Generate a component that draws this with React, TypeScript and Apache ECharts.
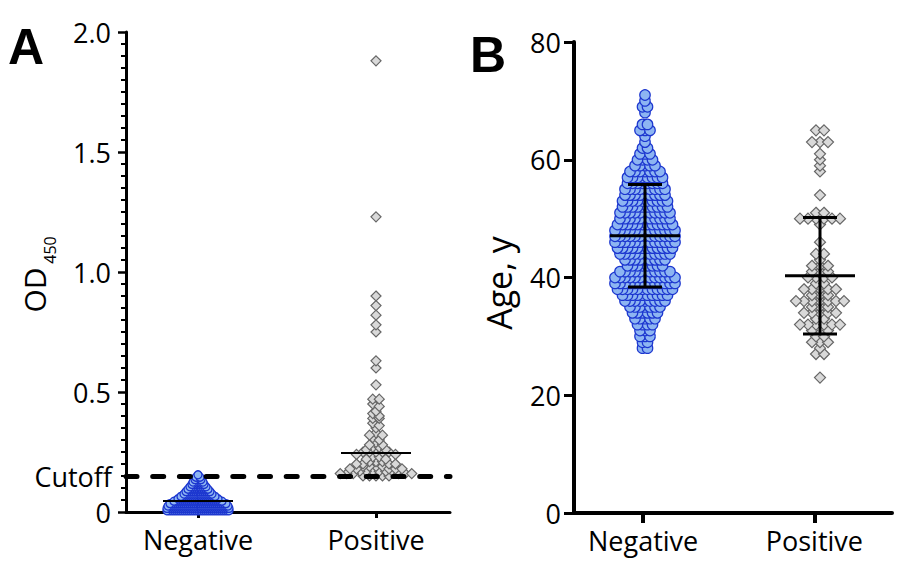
import React, { useEffect, useRef } from 'react';
import * as echarts from 'echarts';

// ---------- data ----------
const categories = ['Negative', 'Positive'];

// Panel A: OD450
const odTickValues = [0, 0.5, 1.0, 1.5, 2.0];
const odCutoff = 0.154;
const odNegLevels = [0.005, 0.015, 0.025, 0.035, 0.045, 0.055, 0.065, 0.075, 0.085, 0.095, 0.105, 0.115, 0.125, 0.135, 0.145, 0.155];
const odNegCounts = [32, 32, 31, 29, 25, 21, 18, 15, 13, 11, 9, 7, 6, 4, 3, 1];
const odPos = [
  1.88, 1.23, 0.9, 0.86, 0.82, 0.78, 0.75, 0.63, 0.6, 0.53,
  0.47, 0.47, 0.45, 0.44, 0.42, 0.41, 0.4, 0.39, 0.39, 0.37,
  0.36, 0.35, 0.33, 0.32, 0.32, 0.31, 0.3, 0.29, 0.28, 0.28,
  0.27, 0.27, 0.26, 0.26, 0.25, 0.25, 0.25, 0.25, 0.25,
  0.24, 0.24, 0.23, 0.23, 0.22, 0.22, 0.21, 0.21, 0.21,
  0.2, 0.2, 0.2, 0.2, 0.19, 0.19, 0.19, 0.19,
  0.18, 0.18, 0.18, 0.18, 0.18, 0.17, 0.17, 0.17, 0.17, 0.17, 0.17,
  0.16, 0.16, 0.16, 0.16, 0.16, 0.16, 0.15, 0.15, 0.15, 0.15, 0.15,
];
const odCentre = [0.046, 0.246];

// Panel B: age
const ageTickValues = [0, 20, 40, 60, 80];
const ageNegAges = [28, 29, 30, 31, 32, 33, 34, 35, 36, 37, 38, 39, 40, 41, 42, 43, 44, 45, 46, 47, 48, 49, 50, 51, 52, 53, 54, 55, 56, 57, 58, 59, 60, 61, 62, 63, 64, 65, 66, 67, 68, 69, 70, 71];
const ageNegCounts = [2, 2, 3, 3, 4, 5, 6, 7, 9, 10, 12, 13, 13, 11, 8, 9, 11, 12, 13, 13, 13, 12, 11, 11, 10, 10, 9, 9, 8, 8, 7, 5, 4, 3, 2, 1, 1, 3, 2, 0, 1, 2, 1, 1];
const agePos = [
  65, 65, 63, 63, 63, 61, 60, 59, 58, 54, 51, 51, 50, 50, 50, 50, 50, 50,
  49, 46, 44, 44, 43, 42, 42, 42, 41, 41, 41, 40, 40, 40, 40, 39, 39,
  38, 38, 38, 38, 38, 37, 37, 37, 36, 36, 36, 36, 36, 36, 36, 35, 35, 35,
  34, 34, 34, 34, 34, 33, 33, 32, 32, 32, 32, 32, 32, 31, 31, 31, 30, 30,
  29, 29, 29, 28, 27, 27, 23,
];
const ageMean = [47.1, 40.3];
const ageSd = [8.7, 9.9];

// ---------- layout / style ----------
const FONT = '"Open Sans", sans-serif';
const NEG_FILL = '#8DB5F2';
const NEG_LINE = '#1C36CF';
const POS_FILL = '#D9D9D9';
const POS_LINE = '#666666';

const PA = { left: 126, right: 450, top: 32, bottom: 512, cats: [198, 376] };
const PB = { left: 574, right: 892, top: 42, bottom: 513, cats: [645, 820] };

function xScale(p: typeof PA) {
  const k = p.cats[1] - p.cats[0];
  const min = 1 - (p.cats[0] - p.left) / k;
  const max = min + (p.right - p.left) / k;
  return { k, min, max };
}

const expand = (levels: number[], counts: number[]) =>
  levels.flatMap((l, i) => Array(counts[i]).fill(l) as number[]);

// Prism-style row layout: points sharing a row are placed side by side around the category
function swarm(values: number[], rowOf: (v: number) => number, centre: number, step: number) {
  const rows = new Map<number, number[]>();
  for (const v of values) {
    const key = rowOf(v);
    if (!rows.has(key)) rows.set(key, []);
    rows.get(key)!.push(v);
  }
  const pts: number[][] = [];
  const keys = Array.from(rows.keys()).sort((a, b) => a - b);
  for (const key of keys) {
    const row = rows.get(key)!.slice().sort((a, b) => b - a);
    const n = row.length;
    const slots = Array.from({ length: n }, (_, i) => i - (n - 1) / 2).sort(
      (a, b) => Math.abs(a) - Math.abs(b) || a - b
    );
    row.forEach((v, i) => pts.push([centre + slots[i] * step, v]));
  }
  return pts;
}

function makeOption() {
  const sa = xScale(PA);
  const sb = xScale(PB);

  const odNeg = expand(odNegLevels, odNegCounts);
  const ageNeg = expand(ageNegAges, ageNegCounts);

  const aNegPts = swarm(odNeg, (v) => Math.round(v * 1000), 1, 2 / sa.k);
  const aPosPts = swarm(odPos, (v) => Math.floor(Math.round(v * 100) / 2), 2, 6.5 / sa.k);
  const bNegPts = swarm(ageNeg, (v) => v, 1, 5 / sb.k);
  const bPosPts = swarm(agePos, (v) => v, 2, 8 / sb.k);

  const axisBlack = { color: '#000' };
  const labelFont = { color: '#000', fontFamily: FONT, fontSize: 27 };

  const centreA = odCentre.map((m, i) => [i + 1, m, 0]);
  const centreB = ageMean.map((m, i) => [i + 1, m, ageSd[i]]);

  const makeRender = (half: number, capHalf: number, lw: number) => (params: any, api: any) => {
    const x = api.value(0);
    const m = api.value(1);
    const sd = api.value(2);
    const c = api.coord([x, m]);
    const children: any[] = [
      { type: 'line', shape: { x1: c[0] - half, y1: c[1], x2: c[0] + half, y2: c[1] }, style: { stroke: '#000', lineWidth: lw } },
    ];
    if (sd > 0) {
      const t = api.coord([x, m + sd]);
      const b = api.coord([x, m - sd]);
      children.push(
        { type: 'line', shape: { x1: c[0], y1: t[1], x2: c[0], y2: b[1] }, style: { stroke: '#000', lineWidth: lw } },
        { type: 'line', shape: { x1: c[0] - capHalf, y1: t[1], x2: c[0] + capHalf, y2: t[1] }, style: { stroke: '#000', lineWidth: lw } },
        { type: 'line', shape: { x1: c[0] - capHalf, y1: b[1], x2: c[0] + capHalf, y2: b[1] }, style: { stroke: '#000', lineWidth: lw } }
      );
    }
    return { type: 'group', children };
  };

  const valueXAxis = (gridIndex: number, s: { min: number; max: number }, w: number) => ({
    gridIndex,
    type: 'value',
    min: s.min,
    max: s.max,
    axisLine: { show: true, lineStyle: { ...axisBlack, width: w } },
    axisTick: { show: false },
    axisLabel: { show: false },
    splitLine: { show: false },
  });
  const catXAxis = (gridIndex: number, tickW: number, tickLen: number) => ({
    gridIndex,
    type: 'category',
    data: categories,
    boundaryGap: true,
    axisLine: { show: false },
    axisTick: { show: true, alignWithLabel: true, length: tickLen, lineStyle: { ...axisBlack, width: tickW } },
    axisLabel: { ...labelFont, margin: 14 },
    splitLine: { show: false },
  });

  return {
    animation: false,
    backgroundColor: '#fff',
    grid: [
      { left: PA.left, top: PA.top, width: PA.right - PA.left, height: PA.bottom - PA.top },
      { left: PA.cats[0] - sa.k / 2, top: PA.top, width: 2 * sa.k, height: PA.bottom - PA.top },
      { left: PB.left, top: PB.top, width: PB.right - PB.left, height: PB.bottom - PB.top },
      { left: PB.cats[0] - sb.k / 2, top: PB.top, width: 2 * sb.k, height: PB.bottom - PB.top },
    ],
    xAxis: [valueXAxis(0, sa, 3), catXAxis(1, 3, 6), valueXAxis(2, sb, 4), catXAxis(3, 4, 10)],
    yAxis: [
      {
        gridIndex: 0,
        type: 'value',
        min: odTickValues[0],
        max: odTickValues[odTickValues.length - 1],
        interval: odTickValues[1] - odTickValues[0],
        axisLine: { show: true, lineStyle: { ...axisBlack, width: 3 } },
        axisTick: { show: true, length: 8, lineStyle: { ...axisBlack, width: 2.5 } },
        minorTick: { show: true, splitNumber: 10, length: 5, lineStyle: { ...axisBlack, width: 2 } },
        axisLabel: { ...labelFont, margin: 15, formatter: (v: number) => (v === 0 ? '0' : v.toFixed(1)) },
        splitLine: { show: false },
        minorSplitLine: { show: false },
      },
      { gridIndex: 1, type: 'value', show: false, min: odTickValues[0], max: odTickValues[odTickValues.length - 1] },
      {
        gridIndex: 2,
        type: 'value',
        min: ageTickValues[0],
        max: ageTickValues[ageTickValues.length - 1],
        interval: ageTickValues[1] - ageTickValues[0],
        axisLine: { show: true, lineStyle: { ...axisBlack, width: 4 } },
        axisTick: { show: true, length: 10, lineStyle: { ...axisBlack, width: 3 } },
        axisLabel: { ...labelFont, margin: 13 },
        splitLine: { show: false },
      },
      { gridIndex: 3, type: 'value', show: false, min: ageTickValues[0], max: ageTickValues[ageTickValues.length - 1] },
    ],
    series: [
      {
        type: 'scatter',
        xAxisIndex: 0,
        yAxisIndex: 0,
        symbol: 'circle',
        symbolSize: 8,
        itemStyle: { color: NEG_FILL, borderColor: NEG_LINE, borderWidth: 1.3, opacity: 1 },
        data: aNegPts,
        z: 2,
        silent: true,
      },
      {
        type: 'scatter',
        xAxisIndex: 0,
        yAxisIndex: 0,
        symbol: 'diamond',
        symbolSize: 10,
        itemStyle: { color: POS_FILL, borderColor: POS_LINE, borderWidth: 1.2, opacity: 1 },
        data: aPosPts,
        z: 2,
        silent: true,
        markLine: {
          silent: true,
          symbol: 'none',
          z: 5,
          lineStyle: { color: '#000', width: 5, type: [11, 15.7], cap: 'round' },
          label: { show: true, position: 'start', formatter: 'Cutoff', distance: 14, ...labelFont },
          data: [{ yAxis: odCutoff }],
        },
      },
      {
        type: 'custom',
        xAxisIndex: 0,
        yAxisIndex: 0,
        renderItem: makeRender(35, 0, 2),
        data: centreA,
        encode: { x: 0, y: 1 },
        z: 4,
        silent: true,
      },
      {
        type: 'scatter',
        xAxisIndex: 2,
        yAxisIndex: 2,
        symbol: 'circle',
        symbolSize: 10.5,
        itemStyle: { color: NEG_FILL, borderColor: NEG_LINE, borderWidth: 1.2, opacity: 1 },
        data: bNegPts,
        z: 2,
        silent: true,
      },
      {
        type: 'scatter',
        xAxisIndex: 2,
        yAxisIndex: 2,
        symbol: 'diamond',
        symbolSize: 11,
        itemStyle: { color: POS_FILL, borderColor: POS_LINE, borderWidth: 1.2, opacity: 1 },
        data: bPosPts,
        z: 2,
        silent: true,
      },
      {
        type: 'custom',
        xAxisIndex: 2,
        yAxisIndex: 2,
        renderItem: makeRender(35, 17, 3),
        data: centreB,
        encode: { x: 0, y: 1 },
        z: 4,
        silent: true,
      },
    ],
    graphic: [
      {
        type: 'text',
        x: 8,
        y: 47,
        style: { text: 'A', font: 'bold 50px "Liberation Sans", Arial, sans-serif', fill: '#000', align: 'left', verticalAlign: 'middle' },
      },
      {
        type: 'text',
        x: 470,
        y: 55,
        style: { text: 'B', font: 'bold 50px "Liberation Sans", Arial, sans-serif', fill: '#000', align: 'left', verticalAlign: 'middle' },
      },
      {
        type: 'text',
        x: 34,
        y: 290,
        rotation: Math.PI / 2,
        style: { text: 'OD', fontFamily: FONT, fontSize: 30, fill: '#000', align: 'center', verticalAlign: 'middle' },
      },
      {
        type: 'text',
        x: 50,
        y: 250,
        rotation: Math.PI / 2,
        style: { text: '450', fontFamily: FONT, fontSize: 16, fill: '#000', align: 'center', verticalAlign: 'middle' },
      },
      {
        type: 'text',
        x: 499,
        y: 283,
        rotation: Math.PI / 2,
        style: { text: 'Age, y', fontFamily: FONT, fontSize: 34, fill: '#000', align: 'center', verticalAlign: 'middle' },
      },
    ],
  };
}

export default function App() {
  const ref = useRef<HTMLDivElement>(null);
  useEffect(() => {
    if (!ref.current) return;
    const chart = echarts.init(ref.current, undefined, { renderer: 'svg' });
    chart.setOption(makeOption() as any);
    return () => chart.dispose();
  }, []);
  return (
    <div
      ref={ref}
      style={{ position: 'fixed', left: 0, top: 0, width: 900, height: 572, background: '#fff' }}
    />
  );
}
